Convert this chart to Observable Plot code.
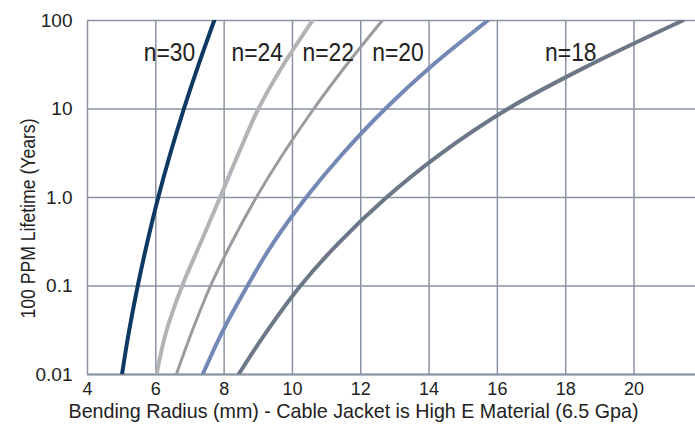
<!DOCTYPE html>
<html><head><meta charset="utf-8">
<script src="https://cdn.jsdelivr.net/npm/d3@7"></script>
<script src="https://cdn.jsdelivr.net/npm/@observablehq/plot@0.6"></script>
<style>
body{margin:0;background:#fff;}
#chart svg{display:block;}
</style></head><body><div id="chart"></div>
<script>
// ---- data ----
const seriesNames = ["n=30", "n=24", "n=22", "n=20", "n=18"];
const lifeY = [0.01, 0.03, 0.1, 0.3, 1, 3, 10, 30, 100];

const n30X = [5.01, 5.21, 5.47, 5.74, 6.07, 6.41, 6.82, 7.23, 7.71];
const n24X = [6.02, 6.3, 6.77, 7.3, 7.88, 8.4, 9.0, 9.7, 10.59];
const n22X = [6.6, 7.05, 7.6, 8.2, 8.94, 9.7, 10.62, 11.54, 12.63];
const n20X = [7.37, 7.94, 8.68, 9.42, 10.4, 11.43, 12.71, 14.05, 15.72];
const n18X = [8.42, 9.23, 10.23, 11.33, 12.75, 14.28, 16.3, 18.6, 21.43];

const labelText = ["n=30", "n=24", "n=22", "n=20", "n=18"];
const labelX = [6.4, 8.97, 11.05, 13.09, 18.15];
const labelY = [43, 43, 43, 43, 43];

const xTicks = [4, 6, 8, 10, 12, 14, 16, 18, 20];
const xTickLabels = ["4", "6", "8", "10", "12", "14", "16", "18", "20"];
const yTicks = [0.01, 0.1, 1, 10, 100];
const yTickLabels = ["0.01", "0.1", "1.0", "10", "100"];

const xTitle = "Bending Radius (mm) - Cable Jacket is High E Material (6.5 Gpa)";
const yTitle = "100 PPM Lifetime (Years)";

// ---- build table ----
const seriesX = [n30X, n24X, n22X, n20X, n18X];
const rows = seriesNames.map((s, k) => seriesX[k].map((x, i) => ({series: s, x, y: lifeY[i]})));
const labels = labelText.map((t, i) => ({t, x: labelX[i], y: labelY[i]}));

const colors = ["#0e3962", "#b2b3b5", "#9a9b9d", "#7488b6", "#6c7787"];
const widths = [4, 4, 3, 4, 4];
const gridColor = "#8a93a4";
const font = "'Liberation Sans', Arial, sans-serif";

const chart = Plot.plot({
  width: 695,
  height: 424,
  marginLeft: 87,
  marginRight: 0,
  marginTop: 20,
  marginBottom: 50,
  style: {fontFamily: font, color: "#222", background: "#fff", overflow: "visible"},
  x: {domain: [4, 21.8]},
  y: {type: "log", domain: [0.01, 100]},
  marks: [
    Plot.gridX(xTicks, {stroke: gridColor, strokeOpacity: 1, strokeWidth: 1.5}),
    Plot.gridY(yTicks, {stroke: gridColor, strokeOpacity: 1, strokeWidth: 1.5}),
    Plot.ruleY([0.01], {stroke: gridColor, strokeWidth: 2}),
    ...rows.map((r, k) => Plot.line(r, {x: "x", y: "y", stroke: colors[k], strokeWidth: widths[k], curve: "catmull-rom", clip: true})),
    Plot.axisX(xTicks, {tickSize: 0, tickPadding: 8, fontSize: 18, label: null, tickFormat: d => xTickLabels[xTicks.indexOf(d)]}),
    Plot.axisY(yTicks, {tickSize: 0, tickPadding: 15, fontSize: 19, label: null, tickFormat: d => yTickLabels[yTicks.indexOf(d)]}),
    Plot.text(labels, {x: "x", y: "y", text: "t", fontSize: 26, fill: "#222"}),
    Plot.text([xTitle], {text: d => d, frameAnchor: "bottom", textAnchor: "middle", lineAnchor: "middle", dx: -38, dy: 37, fontSize: 21, fill: "#222"}),
    Plot.text([yTitle], {text: d => d, frameAnchor: "left", textAnchor: "middle", lineAnchor: "middle", rotate: -90, dx: -59, dy: 21, fontSize: 20, fill: "#222"})
  ]
});
document.getElementById("chart").append(chart);

// condensed typeface look: fit each text to the width measured on the reference
const targetWidths = new Map([[xTitle, 570], [yTitle, 200]]);
chart.querySelectorAll('g[aria-label="text"] text').forEach(t => {
  const w = t.getComputedTextLength();
  const target = targetWidths.get(t.textContent) ?? w * 0.88;
  t.setAttribute("textLength", target.toFixed(1));
  t.setAttribute("lengthAdjust", "spacingAndGlyphs");
});
</script>
</body></html>
